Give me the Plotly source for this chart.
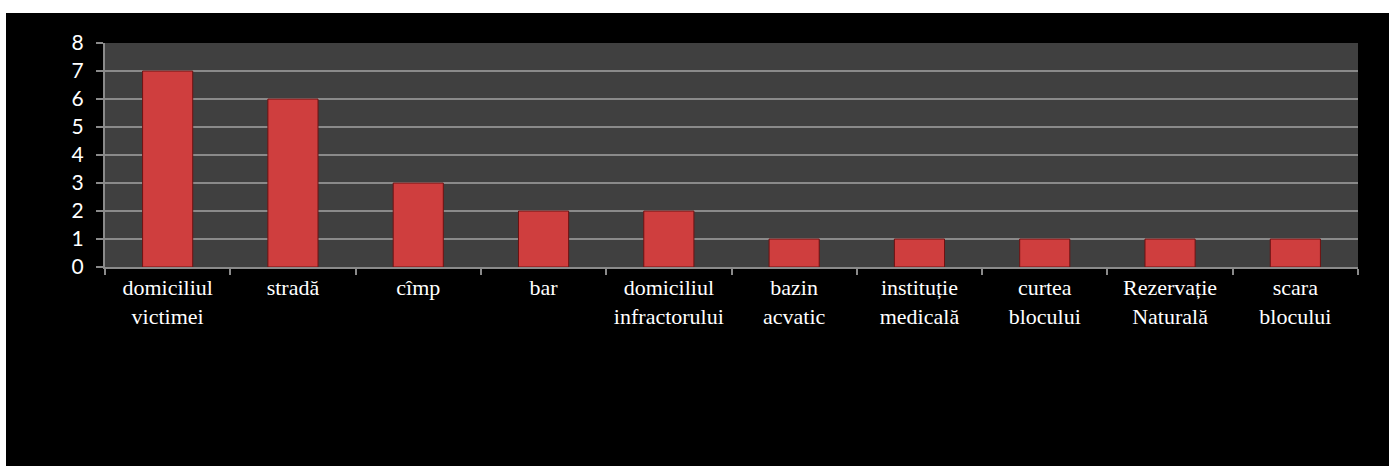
import plotly.graph_objects as go

# Locul comiterii faptei
categories = [
    "domiciliul<br>victimei", "stradă", "cîmp", "bar", "domiciliul<br>infractorului",
    "bazin<br>acvatic", "instituție<br>medicală", "curtea<br>blocului",
    "Rezervație<br>Naturală", "scara<br>blocului",
]
values = [7, 6, 3, 2, 2, 1, 1, 1, 1, 1]
y_ticks = list(range(0, 9))

W, H = 1396, 466
L, R, T, B = 105, 38, 43, 199

fig = go.Figure()
fig.add_trace(go.Bar(
    x=categories,
    y=values,
    marker=dict(color="#cf3e3e", line=dict(color="#6e1212", width=1)),
    width=0.4,
))

fig.update_layout(
    width=W, height=H,
    margin=dict(l=L, r=R, t=T, b=B, pad=0),
    paper_bgcolor="black",
    plot_bgcolor="#404040",
    showlegend=False,
    bargap=0.6,
)

fig.update_xaxes(
    type="category",
    tickson="boundaries",
    ticks="outside", ticklen=6, tickwidth=2, tickcolor="#8a8a8a",
    showline=True, linecolor="#8a8a8a", linewidth=2,
    showgrid=False,
    tickfont=dict(family="Liberation Serif", size=22, color="white"),
    tickangle=0,
)
fig.update_yaxes(
    range=[0, 8], tickvals=y_ticks,
    ticks="outside", ticklen=7, tickwidth=2, tickcolor="#8a8a8a",
    showline=True, linecolor="#8a8a8a", linewidth=2,
    showgrid=True, gridcolor="#8a8a8a", gridwidth=2,
    zeroline=False,
    tickfont=dict(family="Lato", size=21, color="white"),
    ticklabelstandoff=8,
)

# white frame around the black chart area
pw = W - L - R
ph = H - T - B
def px_x(x):
    return (x - L) / pw
def px_y(y):
    return (H - B - y) / ph

frame = [
    (0, 0, W, 13),      # top
    (0, 0, 6, H),       # left
    (1389, 0, W, H),    # right
]
for x0, y0, x1, y1 in frame:
    fig.add_shape(
        type="rect", xref="paper", yref="paper",
        x0=px_x(x0), x1=px_x(x1), y0=px_y(y1), y1=px_y(y0),
        fillcolor="white", line=dict(width=0), layer="above",
    )

fig.write_html(
    "out.html",
    config={"displayModeBar": False},
    post_script="document.body.style.margin='0';",
)
